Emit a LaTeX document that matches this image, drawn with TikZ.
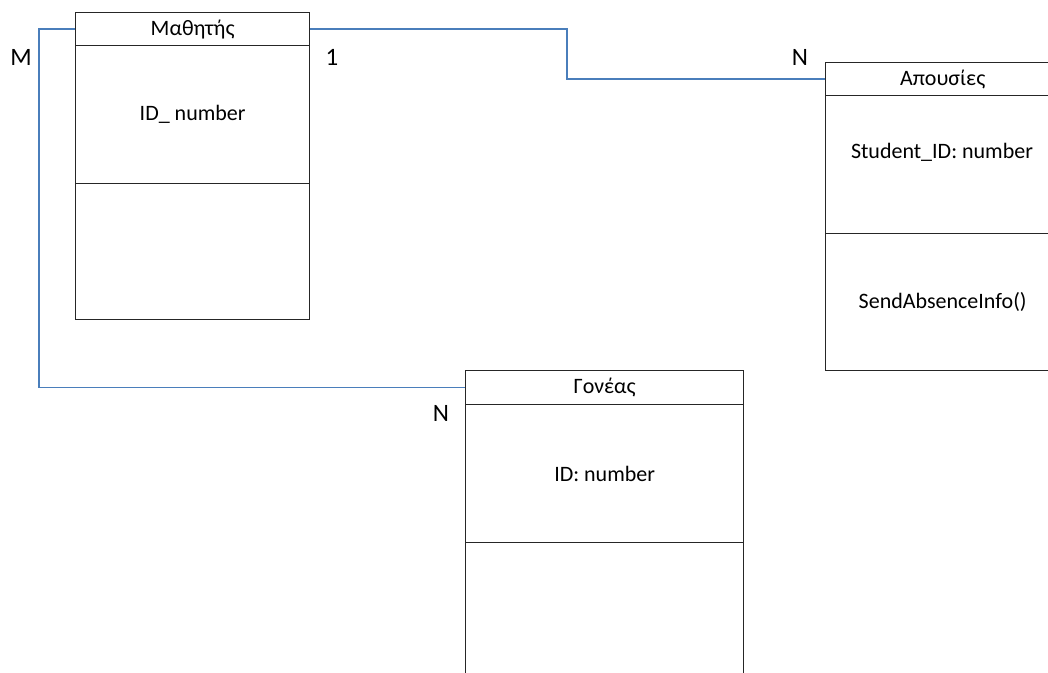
\documentclass[tikz,border=0pt]{standalone}
\usepackage{fontspec}
\setmainfont{Carlito}
\definecolor{linkblue}{RGB}{74,126,187}
\begin{document}
\begin{tikzpicture}[x=1pt,y=-1pt,
  box/.style={draw=black!85,line width=1.3pt,rectangle,anchor=north west,inner sep=0pt,font=\fontsize{22}{26}\selectfont},
  txt/.style={inner sep=0pt,font=\fontsize{22}{26}\selectfont},
  lbl/.style={inner sep=0pt,font=\fontsize{25}{29}\selectfont},
  link/.style={draw=linkblue,line width=1.4pt}]
\useasboundingbox (0,0) rectangle (1048,672);
\clip (0,0) rectangle (1048,672);
% Mathitis
\node[box,minimum width=234pt,minimum height=33pt] (mh) at (75,12) {Μαθητής};
\node[box,minimum width=234pt,minimum height=138pt] (ma) at (75,45) {ID\_ number};
\node[box,minimum width=234pt,minimum height=136pt] (mm) at (75,183) {};
% Apousies
\node[box,minimum width=234pt,minimum height=33pt] (ah) at (825,62) {Απουσίες};
\node[box,minimum width=234pt,minimum height=138pt] (aa) at (825,95) {};
\node[txt] (aat) at (942,152) {Student\_ID: number};
\node[box,minimum width=234pt,minimum height=137pt] (am) at (825,233) {SendAbsenceInfo()};
% Goneas
\node[box,minimum width=278pt,minimum height=34pt] (gh) at (465,370) {Γονέας};
\node[box,minimum width=278pt,minimum height=138pt] (ga) at (465,404) {ID: number};
\node[box,minimum width=278pt,minimum height=140pt] (gm) at (465,542) {};
% connectors
\coordinate (lc) at (39,200);
\coordinate (rc) at (567,50);
\draw[link] (mh.west) -| (lc) |- (gh.west);
\draw[link] (mh.east) -| (rc) |- (ah.west);
% multiplicities
\node[lbl] (lM) at (21,57) {M};
\node[lbl] (l1) at (332,57) {1};
\node[lbl] (lN1) at (800,57) {N};
\node[lbl] (lN2) at (441,413) {N};
\end{tikzpicture}
\end{document}
